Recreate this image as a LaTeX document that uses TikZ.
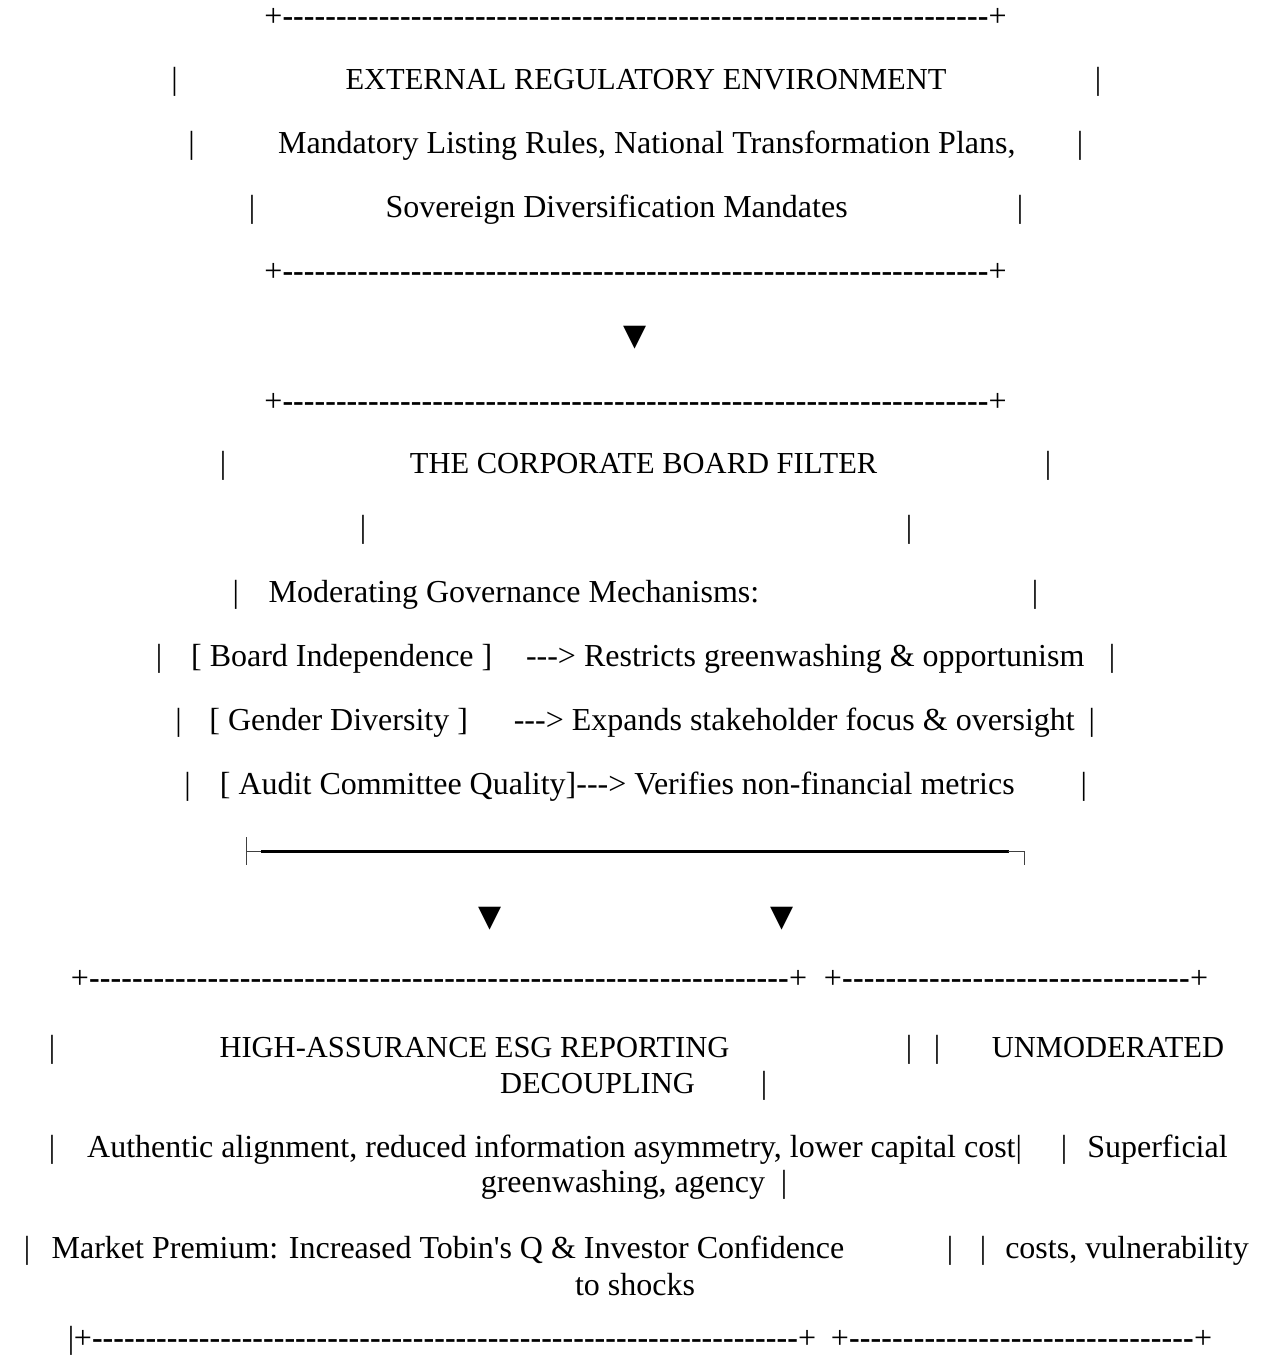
\documentclass[tikz,border=0pt]{standalone}
\usepackage{fontspec}
\newfontfamily\pal{Liberation Serif}
\newfontfamily\sym{DejaVu Sans}
\newcommand\dashrow[1]{+\xleaders\hbox{\bfseries -}\hskip\dimexpr#1pt-18pt\relax+}
\begin{document}
\begin{tikzpicture}[x=1pt,y=-1pt,
  txt/.style={font=\pal\fontsize{32}{38}\selectfont, inner sep=0pt, anchor=base},
  capt/.style={font=\pal\fontsize{30.5}{36}\selectfont, inner sep=0pt, anchor=base},
  tri/.style={font=\sym\fontsize{30}{30}\selectfont, inner sep=0pt, anchor=center},
  thinln/.style={line width=1.2pt, draw=black!75},
  heavyln/.style={line width=3pt, draw=black}]
\useasboundingbox (0,0) rectangle (1261,1359);
% top box
\node[txt] (r1) at (635.5,27) {\dashrow{724}};
\node[txt] (b2l) at (174.6,90) {|};
\node[capt] (t2) at (646,90) {EXTERNAL REGULATORY ENVIRONMENT};
\node[txt] (b2r) at (1098,90) {|};
\node[txt] (b3l) at (191.5,154) {|};
\node[txt] (t3) at (646.8,154) {Mandatory Listing Rules, National Transformation Plans,};
\node[txt] (b3r) at (1080,154) {|};
\node[txt] (b4l) at (252,217) {|};
\node[txt] (t4) at (616.6,217) {Sovereign Diversification Mandates};
\node[txt] (b4r) at (1020,217) {|};
\node[txt] (r5) at (635.5,281) {\dashrow{724}};
\node[tri] (a6) at (635.5,338) {▼};
% board box
\node[txt] (r7) at (635.5,411) {\dashrow{724}};
\node[txt] (b8l) at (223,473) {|};
\node[capt] (t8) at (643.6,473) {THE CORPORATE BOARD FILTER};
\node[txt] (b8r) at (1048,473) {|};
\node[txt] (b9l) at (363,537) {|};
\node[txt] (b9r) at (909,537) {|};
\node[txt] (b10l) at (235.7,602) {|};
\node[txt] (t10) at (514,602) {Moderating Governance Mechanisms:};
\node[txt] (b10r) at (1035,602) {|};
\node[txt] (b11l) at (159,666) {|};
\node[txt] (m11) at (341.7,666) {[ Board Independence ]};
\node[txt] (e11) at (805.2,666) {---> Restricts greenwashing \& opportunism};
\node[txt] (b11r) at (1112,666) {|};
\node[txt] (b12l) at (178.6,730) {|};
\node[txt] (m12) at (338.7,730) {[ Gender Diversity ]};
\node[txt] (e12) at (794.3,730) {---> Expands stakeholder focus \& oversight};
\node[txt] (b12r) at (1091.7,730) {|};
\node[txt] (b13l) at (187.5,794) {|};
\node[txt] (t13) at (617.3,794) {[ Audit Committee Quality]---> Verifies non-financial metrics};
\node[txt] (b13r) at (1083.7,794) {|};
% branch
\coordinate (jl) at (246.6,851.5);
\coordinate (jr) at (1024.5,851.5);
\draw[thinln] (246.6,837) -- (246.6,865);
\draw[thinln] (jl) -- (262,851.5);
\draw[heavyln] (261,851.5) -- (1009,851.5);
\draw[thinln] (1008,851.5) -- (jr) -- (1024.5,865);
\node[tri] (a15l) at (489.6,919) {▼};
\node[tri] (a15r) at (782.5,919) {▼};
% bottom boxes
\node[txt] (r16a) at (439,988) {\dashrow{718}};
\node[txt] (r16b) at (1016,988) {\dashrow{366}};
\node[txt] (b17l) at (52,1057) {|};
\node[capt] (t17) at (474.5,1057) {HIGH-ASSURANCE ESG REPORTING};
\node[txt] (b17m) at (909,1057) {|};
\node[txt] (b17n) at (937,1057) {|};
\node[capt] (t17b) at (1108,1057) {UNMODERATED};
\node[capt] (t18) at (597.5,1093) {DECOUPLING};
\node[txt] (b18) at (764,1093) {|};
\node[txt] (b19l) at (52,1157) {|};
\node[txt] (t19) at (554.5,1157) {Authentic alignment, reduced information asymmetry, lower capital cost|};
\node[txt] (b19m) at (1064,1157) {|};
\node[txt] (t19b) at (1157.5,1157) {Superficial};
\node[txt] (t20) at (623,1192) {greenwashing, agency};
\node[txt] (b20) at (784,1192) {|};
\node[txt] (b21l) at (27,1258) {|};
\node[txt] (t21) at (448,1258) {Market Premium: Increased Tobin's Q \& Investor Confidence};
\node[txt] (b21m) at (950,1258) {|};
\node[txt] (b21n) at (983,1258) {|};
\node[txt] (t21b) at (1127,1258) {costs, vulnerability};
\node[txt] (t22) at (635,1295) {to shocks};
\node[txt] (b23) at (71,1348) {|};
\node[txt] (r23a) at (445,1348) {\dashrow{724}};
\node[txt] (r23b) at (1021.5,1348) {\dashrow{363}};
\end{tikzpicture}
\end{document}
